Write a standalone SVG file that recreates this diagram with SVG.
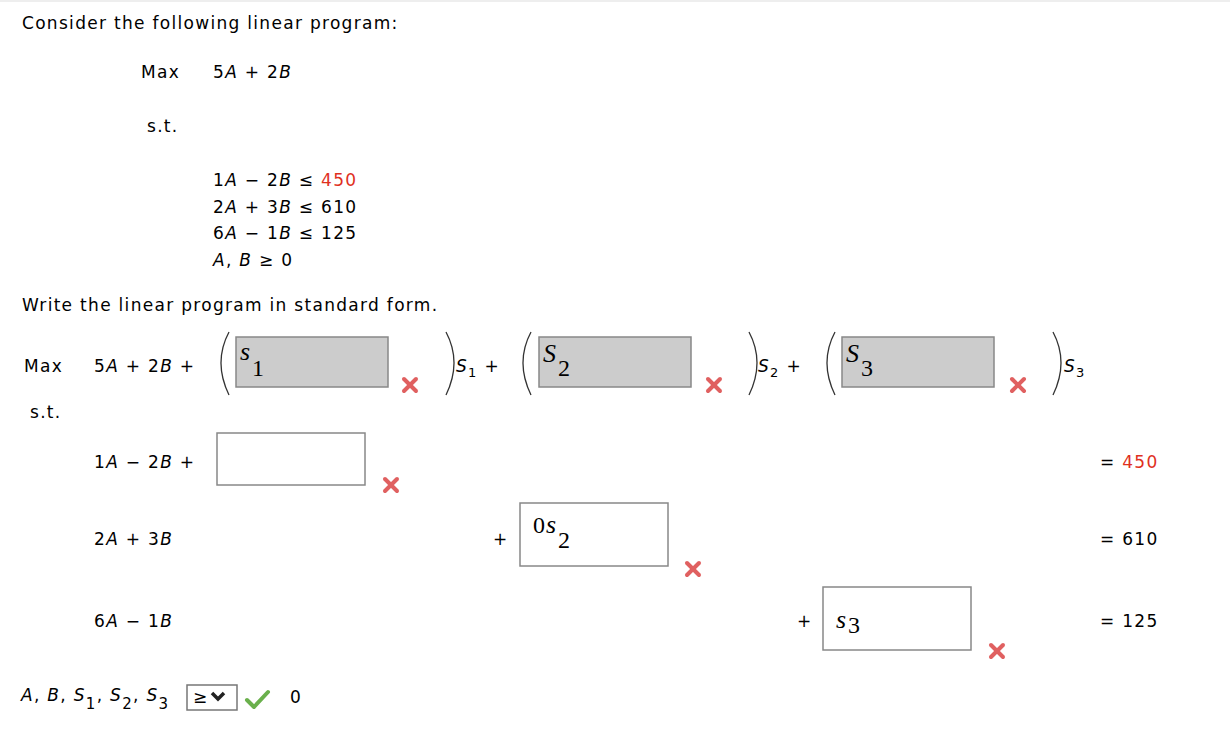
<svg xmlns="http://www.w3.org/2000/svg" width="1230" height="746" viewBox="0 0 1230 746">
<defs>
<style>
.t{font-family:"DejaVu Sans",Verdana,sans-serif;font-size:17px;fill:#000;letter-spacing:1.3px}
.i{font-style:italic}
.r{fill:#e0301e}
.m{font-family:"Liberation Serif","DejaVu Serif",serif;font-size:26px;font-style:italic;fill:#000}
.mn{font-family:"Liberation Serif","DejaVu Serif",serif;font-size:24px;fill:#000}
.box{fill:#fff;stroke:#888;stroke-width:1.5}
.gbox{fill:#cccccc;stroke:#888;stroke-width:1.5}
.par{fill:none;stroke:#333;stroke-width:1.3}
.x{stroke:#e06060;stroke-width:4;stroke-linecap:round}
</style>
<g id="xm"><line class="x" x1="-6" y1="-6" x2="6" y2="6"/><line class="x" x1="6" y1="-6" x2="-6" y2="6"/></g>
</defs>
<rect width="1230" height="746" fill="#fff"/>
<line x1="0" y1="1" x2="1230" y2="1" stroke="#ddd"/>
<text class="t" x="22" y="29">Consider the following linear program:</text>
<text class="t" x="141" y="78">Max</text>
<text class="t" x="213" y="78">5<tspan class="i">A</tspan> + 2<tspan class="i">B</tspan></text>
<text class="t" x="147" y="132">s.t.</text>
<text class="t" x="213" y="186">1<tspan class="i">A</tspan> − 2<tspan class="i">B</tspan> ≤ <tspan class="r">450</tspan></text>
<text class="t" x="213" y="213">2<tspan class="i">A</tspan> + 3<tspan class="i">B</tspan> ≤ 610</text>
<text class="t" x="213" y="239">6<tspan class="i">A</tspan> − 1<tspan class="i">B</tspan> ≤ 125</text>
<text class="t" x="213" y="266"><tspan class="i">A</tspan>, <tspan class="i">B</tspan> ≥ 0</text>
<text class="t" x="22" y="311">Write the linear program in standard form.</text>
<g id="objective">
<text class="t" x="24" y="372">Max</text>
<text class="t" x="94" y="372">5<tspan class="i">A</tspan> + 2<tspan class="i">B</tspan> +</text>
<path class="par" d="M229 332 Q213 362 229 395"/>
<rect class="gbox" x="236" y="337" width="152" height="50"/>
<text class="m" x="240" y="360">s</text><text class="mn" x="252" y="376">1</text>
<use href="#xm" x="410" y="385"/>
<path class="par" d="M446 332 Q462 362 446 395"/>
<text class="t" x="456" y="372"><tspan class="i">S</tspan><tspan font-size="13" dy="5">1</tspan><tspan dy="-5"> +</tspan></text>
<path class="par" d="M531 332 Q515 362 531 395"/>
<rect class="gbox" x="539" y="337" width="152" height="50"/>
<text class="m" x="543" y="362">S</text><text class="mn" x="558" y="376">2</text>
<use href="#xm" x="714" y="385"/>
<path class="par" d="M749 332 Q765 362 749 395"/>
<text class="t" x="758" y="372"><tspan class="i">S</tspan><tspan font-size="13" dy="5">2</tspan><tspan dy="-5"> +</tspan></text>
<path class="par" d="M835 332 Q819 362 835 395"/>
<rect class="gbox" x="842" y="337" width="152" height="50"/>
<text class="m" x="846" y="362">S</text><text class="mn" x="861" y="376">3</text>
<use href="#xm" x="1018" y="385"/>
<path class="par" d="M1053 332 Q1069 362 1053 395"/>
<text class="t" x="1064" y="372"><tspan class="i">S</tspan><tspan font-size="13" dy="5">3</tspan></text>
</g>
<text class="t" x="30" y="418">s.t.</text>
<g id="c1">
<text class="t" x="94" y="468">1<tspan class="i">A</tspan> − 2<tspan class="i">B</tspan> +</text>
<rect class="box" x="217" y="433" width="148" height="52"/>
<use href="#xm" x="391" y="485"/>
<text class="t" x="1100" y="468">= <tspan class="r">450</tspan></text>
</g>
<g id="c2">
<text class="t" x="94" y="545">2<tspan class="i">A</tspan> + 3<tspan class="i">B</tspan></text>
<text class="t" x="493" y="545">+</text>
<rect class="box" x="520" y="503" width="148" height="63"/>
<text class="mn" x="533" y="533">0</text><text class="m" x="546" y="533">s</text><text class="mn" x="558" y="548">2</text>
<use href="#xm" x="693" y="569"/>
<text class="t" x="1100" y="545">= 610</text>
</g>
<g id="c3">
<text class="t" x="94" y="627">6<tspan class="i">A</tspan> − 1<tspan class="i">B</tspan></text>
<text class="t" x="797" y="627">+</text>
<rect class="box" x="823" y="587" width="148" height="63"/>
<text class="m" x="836" y="628">s</text><text class="mn" x="848" y="633">3</text>
<use href="#xm" x="997" y="651"/>
<text class="t" x="1100" y="627">= 125</text>
</g>
<g id="nonneg">
<text class="t" x="21" y="701"><tspan class="i">A</tspan>, <tspan class="i">B</tspan>, <tspan class="i">S</tspan><tspan font-size="15" dy="8">1</tspan><tspan dy="-8">, </tspan><tspan class="i">S</tspan><tspan font-size="15" dy="8">2</tspan><tspan dy="-8">, </tspan><tspan class="i">S</tspan><tspan font-size="15" dy="8">3</tspan></text>
<rect x="187" y="685" width="50" height="25" fill="#fff" stroke="#777" stroke-width="1.5"/>
<text class="t" x="193" y="703">≥</text>
<path d="M212 693 L218 699 L224 693" fill="none" stroke="#222" stroke-width="3.5"/>
<path d="M247 700 L254 707 L268 692" fill="none" stroke="#6ab04c" stroke-width="4" stroke-linecap="round" stroke-linejoin="round"/>
<text class="t" x="290" y="703">0</text>
</g>
</svg>
